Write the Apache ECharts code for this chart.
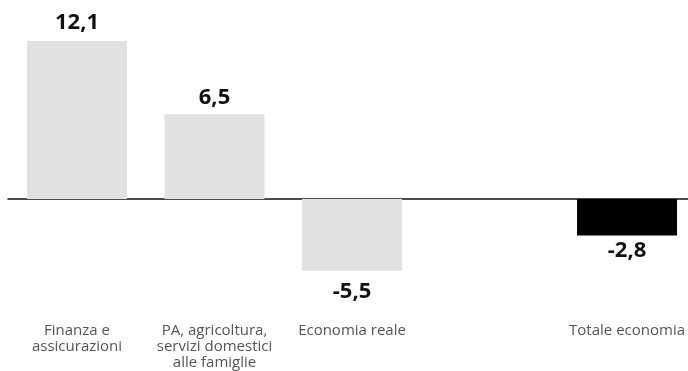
<!DOCTYPE html>
<html>
<head>
<meta charset="utf-8">
<script src="https://cdn.jsdelivr.net/npm/echarts@6/dist/echarts.min.js"></script>
<style>html,body{margin:0;padding:0;background:#fff;}#c{width:688px;height:371px;}</style>
</head>
<body>
<div id="c"></div>
<script>
var categories = ['Finanza e\nassicurazioni', 'PA, agricoltura,\nservizi domestici\nalle famiglie', 'Economia reale', '', 'Totale economia'];
var values = [12.1, 6.5, -5.5, null, -2.8];
var highlightIndex = 4;
var yMin = -8, yMax = 14;

var chart = echarts.init(document.getElementById('c'));
var data = values.map(function (v, i) {
  if (v === null) return null;
  var isHi = i === highlightIndex;
  var neg = v < 0;
  return {
    value: v,
    itemStyle: { color: isHi ? '#000000' : '#e1e1e1' },
    label: {
      show: true,
      position: neg ? 'bottom' : 'top',
      distance: neg ? (i === 2 ? 10 : 4) : (i === 0 ? 7 : 5)
    }
  };
});
chart.setOption({
  animation: false,
  grid: [
    { left: 77, right: 60.2, top: 16.2, bottom: 67.5, containLabel: false },
    { left: 8, right: 0, top: 16.2, bottom: 67.5, containLabel: false }
  ],
  xAxis: [{
    type: 'category',
    gridIndex: 0,
    data: categories,
    boundaryGap: false,
    position: 'bottom',
    axisLine: { show: false, onZero: false },
    axisTick: { show: false },
    splitLine: { show: false },
    axisLabel: {
      interval: 0,
      margin: 19,
      color: '#555',
      fontFamily: 'Open Sans',
      fontSize: 15,
      lineHeight: 16,
      verticalAlign: 'top'
    }
  }, {
    type: 'category',
    gridIndex: 1,
    data: categories,
    position: 'bottom',
    axisLine: { show: true, onZero: true, lineStyle: { color: '#111', width: 1.5 } },
    axisTick: { show: false },
    splitLine: { show: false },
    axisLabel: { show: false }
  }],
  yAxis: [{
    type: 'value', gridIndex: 0, min: yMin, max: yMax,
    show: false, splitLine: { show: false }
  }, {
    type: 'value', gridIndex: 1, min: yMin, max: yMax,
    show: false, splitLine: { show: false }
  }],
  series: [{
    type: 'bar',
    xAxisIndex: 0,
    yAxisIndex: 0,
    data: data,
    barWidth: 100,
    z: 3,
    label: {
      fontFamily: 'Open Sans',
      fontWeight: 'bold',
      fontSize: 22,
      color: '#111',
      formatter: function (p) { return String(p.value).replace('.', ','); }
    }
  }]
});
</script>
</body>
</html>
